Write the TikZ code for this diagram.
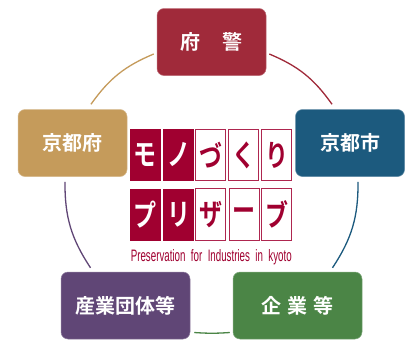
\documentclass[tikz,border=0pt]{standalone}
\usepackage{fontspec}
\usetikzlibrary{calc}
\newfontfamily\jp{Noto Sans CJK JP}[BoldFont={Noto Sans CJK JP Bold}]
\setmainfont{Liberation Sans}
\definecolor{cRed}{HTML}{A02A3A}
\definecolor{cGold}{HTML}{C59B5B}
\definecolor{cBlue}{HTML}{1C5A7E}
\definecolor{cGreen}{HTML}{4B8546}
\definecolor{cPurple}{HTML}{604676}
\definecolor{cLogo}{HTML}{A00030}
\newcommand{\tallch}[1]{\scalebox{1}[1.3]{#1}}
\tikzset{
  party/.style={rounded corners=7pt,inner sep=0pt,text=white,align=center,
    font=\jp\bfseries\fontsize{20}{20}\selectfont,draw=#1!70!white,line width=.5pt,fill=#1},
  wide/.style={minimum width=109pt,minimum height=67pt},
  wider/.style={minimum width=129pt,minimum height=67pt},
  link/.style={line width=1.3pt,#1},
  solidcell/.style={fill=cLogo,text=white,inner sep=0pt,minimum width=30.5pt,minimum height=52pt,
    font=\jp\fontsize{23}{23}\selectfont\bfseries},
  opencell/.style={draw=cLogo!85!white,line width=.9pt,fill=white,text=cLogo,inner sep=0pt,
    minimum width=30pt,minimum height=51.5pt,font=\jp\fontsize{23}{23}\selectfont\bfseries}
}
\begin{document}
\begin{tikzpicture}[x=1pt,y=-1pt]
\useasboundingbox (0,0) rectangle (411,340);
\fill[white] (0,0) rectangle (411,340);
\node[party=cRed,wide] (fukei) at (211.5,42) {府\hspace{22pt}警};
\node[party=cGold,wide] (kyotofu) at (72.5,143) {京都府};
\node[party=cBlue,wide] (kyotoshi) at (350,143) {京都市};
\node[party=cPurple,wider] (dantai) at (125.5,305.5) {産業団体等};
\node[party=cGreen,wider] (kigyo) at (297.5,305.5) {企\hspace{6pt}業\hspace{6pt}等};
\coordinate (a1) at ($(fukei.east)+(3,12)$);
\coordinate (a2) at ($(kyotoshi.north)+(-18,-5)$);
\coordinate (b1) at ($(kyotoshi.south)+(8,5)$);
\coordinate (b2) at ($(kigyo.north)+(35,-4)$);
\coordinate (c1) at ($(kigyo.west)+(-3,27)$);
\coordinate (c2) at ($(dantai.east)+(4,27)$);
\coordinate (d1) at ($(dantai.north)+(-35,-4)$);
\coordinate (d2) at ($(kyotofu.south)+(-7.5,5)$);
\coordinate (e1) at ($(kyotofu.north)+(18.5,-5)$);
\coordinate (e2) at ($(fukei.west)+(-3,12)$);
\draw[link=cRed] (a1) to[bend left=16] (a2);
\draw[link=cBlue] (b1) to[bend left=17] (b2);
\draw[link=cGreen] (c1) to[bend left=4] (c2);
\draw[link=cPurple] (d1) to[bend left=17] (d2);
\draw[link=cGold] (e1) to[bend left=16] (e2);
\node[solidcell] (m1) at (145.3,155) {\tallch{モ}};
\node[solidcell] (m2) at (178.6,155) {\tallch{ノ}};
\node[opencell] (m3) at (210.6,155) {\tallch{づ}};
\node[opencell] (m4) at (243.6,155) {\tallch{く}};
\node[opencell] (m5) at (276.5,155) {\tallch{り}};
\node[solidcell] (p1) at (145.3,214.6) {\tallch{プ}};
\node[solidcell] (p2) at (178.6,214.6) {\tallch{リ}};
\node[opencell] (p3) at (210.9,214.6) {\tallch{ザ}};
\node[opencell] (p4) at (244,214.6) {\tallch{ー}};
\node[opencell] (p5) at (276.5,214.6) {\tallch{ブ}};
\node[inner sep=0pt,text=cLogo] (tagline) at (211.3,257)
  {\resizebox{161pt}{12pt}{\fontsize{12}{12}\selectfont Preservation\ \ for\ \ Industries\ \ in\ \ kyoto}};
\end{tikzpicture}
\end{document}
